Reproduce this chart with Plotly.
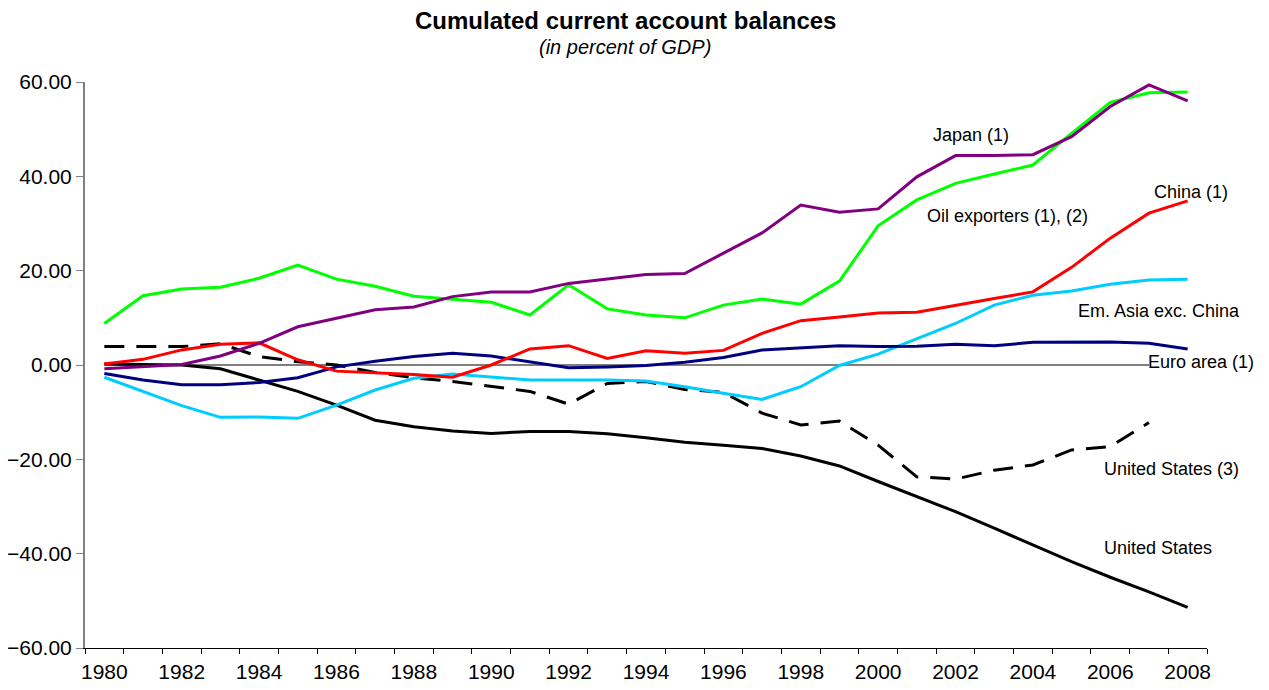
import plotly.graph_objects as go

years = list(range(1980, 2009))

us = [0.2, 0.1, 0.0, -0.8, -3.2, -5.6, -8.5, -11.7, -13.1, -14.0, -14.5, -14.1, -14.1, -14.6,
      -15.4, -16.4, -17.0, -17.7, -19.3, -21.4, -24.7, -27.9, -31.1, -34.6, -38.2, -41.7,
      -45.0, -48.1, -51.4]
us3_years = list(range(1980, 2008))
us3 = [3.9, 3.9, 3.9, 4.5, 1.8, 0.7, 0.0, -1.6, -2.7, -3.5, -4.6, -5.6, -8.3, -3.9,
       -3.5, -5.2, -5.8, -10.2, -12.7, -11.9, -17.0, -23.7, -24.2, -22.3, -21.2, -18.0,
       -17.3, -12.2]
japan = [-0.8, -0.4, 0.1, 1.9, 4.6, 8.1, 9.9, 11.7, 12.3, 14.5, 15.5, 15.5, 17.3, 18.2,
         19.2, 19.4, 23.7, 28.0, 33.9, 32.4, 33.1, 39.9, 44.4, 44.4, 44.6, 48.4, 54.8,
         59.4, 56.0]
oil = [8.8, 14.7, 16.1, 16.5, 18.4, 21.2, 18.2, 16.7, 14.6, 13.9, 13.3, 10.6, 17.0, 11.9,
       10.6, 10.0, 12.7, 14.0, 12.9, 17.8, 29.5, 35.0, 38.5, 40.5, 42.4, 49.1, 55.7,
       57.7, 57.9]
china = [0.2, 1.2, 3.2, 4.4, 4.7, 1.1, -1.3, -1.6, -2.0, -2.6, 0.0, 3.4, 4.1, 1.4, 3.0,
         2.5, 3.1, 6.7, 9.4, 10.2, 11.0, 11.2, 12.7, 14.1, 15.5, 20.7, 26.9, 32.2, 34.8]
euro = [-1.8, -3.2, -4.2, -4.2, -3.7, -2.7, -0.4, 0.8, 1.8, 2.5, 1.9, 0.7, -0.6, -0.4,
        -0.1, 0.6, 1.6, 3.2, 3.7, 4.1, 3.9, 4.0, 4.4, 4.1, 4.8, 4.9, 4.9, 4.6, 3.4]
emasia = [-2.6, -5.6, -8.6, -11.1, -11.0, -11.3, -8.5, -5.3, -2.8, -1.9, -2.5, -3.2, -3.2,
          -3.2, -3.4, -4.6, -6.0, -7.3, -4.6, -0.1, 2.3, 5.5, 8.8, 12.7, 14.8, 15.7, 17.1,
          18.0, 18.2]
zero_years = list(range(1980, 2008))
zero = [0.0] * len(zero_years)

tick_years = list(range(1980, 2009, 2))
y_ticks = [-60, -40, -20, 0, 20, 40, 60]

FONT = "Liberation Sans, Arial, sans-serif"

fig = go.Figure()
fig.add_trace(go.Scatter(x=zero_years, y=zero, mode="lines", line=dict(color="black", width=1.2)))
fig.add_trace(go.Scatter(x=years, y=us, mode="lines", line=dict(color="black", width=3)))
fig.add_trace(go.Scatter(x=us3_years, y=us3, mode="lines",
                         line=dict(color="black", width=3, dash="20px,12px")))
fig.add_trace(go.Scatter(x=years, y=emasia, mode="lines", line=dict(color="#00CCFF", width=3)))
fig.add_trace(go.Scatter(x=years, y=euro, mode="lines", line=dict(color="#000080", width=3)))
fig.add_trace(go.Scatter(x=years, y=china, mode="lines", line=dict(color="#FF0000", width=3)))
fig.add_trace(go.Scatter(x=years, y=oil, mode="lines", line=dict(color="#00FF00", width=3)))
fig.add_trace(go.Scatter(x=years, y=japan, mode="lines", line=dict(color="#800080", width=3)))

labels = [
    ("Japan (1)", 2001.4, 48.8),
    ("Oil exporters (1), (2)", 2001.24, 31.6),
    ("China (1)", 2007.1, 36.7),
    ("Em. Asia exc. China", 2005.14, 11.4),
    ("Euro area (1)", 2006.94, 0.6),
    ("United States (3)", 2005.8, -22.0),
    ("United States", 2005.8, -38.8),
]
for txt, lx, ly in labels:
    fig.add_annotation(x=lx, y=ly, xref="x", yref="y", text=txt, showarrow=False,
                       xanchor="left", yanchor="middle", borderpad=0,
                       font=dict(family=FONT, size=18, color="black"))

fig.add_annotation(x=0.4817, y=1.1095, xref="paper", yref="paper",
                   text="<b>Cumulated current account balances</b>", showarrow=False,
                   xanchor="center", yanchor="middle",
                   font=dict(family=FONT, size=24, color="black"))
fig.add_annotation(x=0.4817, y=1.0618, xref="paper", yref="paper",
                   text="<i>(in percent of GDP)</i>", showarrow=False,
                   xanchor="center", yanchor="middle",
                   font=dict(family=FONT, size=20, color="black"))

fig.update_layout(
    width=1261, height=682,
    margin=dict(l=77, r=62, t=74, b=42),
    paper_bgcolor="white", plot_bgcolor="white",
    showlegend=False,
    font=dict(family=FONT, size=21, color="black"),
    xaxis=dict(range=[1979.5, 2008.5], tickvals=tick_years, ticktext=[str(t) for t in tick_years],
               automargin=False,
               showgrid=False, zeroline=False, showline=True, linecolor="black", linewidth=1,
               ticks="outside", ticklen=5, tickcolor="rgba(0,0,0,0)",
               minor=dict(tick0=1979.5, dtick=1, ticks="outside", ticklen=5,
                          tickcolor="black", tickwidth=1, showgrid=False),
               tickfont=dict(family=FONT, size=21)),
    yaxis=dict(range=[-60, 60], tickvals=y_ticks, tickformat=".2f",
               automargin=False,
               showgrid=False, zeroline=False, showline=True, linecolor="#808080", linewidth=2,
               ticks="outside", ticklen=7, tickcolor="#808080", ticklabelstandoff=0,
               tickfont=dict(family=FONT, size=21)),
)

fig.write_html("out.html")
